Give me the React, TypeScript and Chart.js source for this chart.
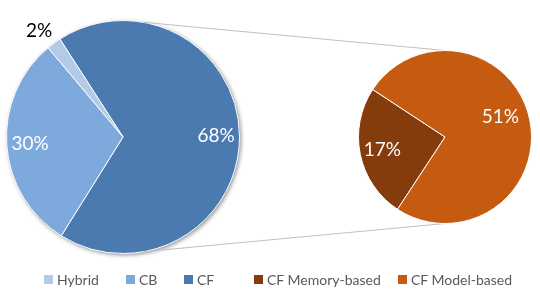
import React, { useEffect, useRef } from "react";
import { Chart, registerables } from "chart.js";
Chart.register(...registerables);

// ---- data ----
const mainLabels = ["Hybrid", "CB", "CF"];
const mainValues = [2, 30, 68];
const mainColors = ["#b4cbe8", "#7ea9dc", "#4a7ab0"];

const subLabels = ["CF Memory-based", "CF Model-based"];
const subValues = [17, 51];
const subColors = ["#843c0c", "#c55a11"];

// ---- styling / layout (not data) ----
const W = 540;
const H = 293;
const FONT = "Lato, 'Open Sans', sans-serif";
// label placement per slice, in main-legend order
const mainLabelStyle = [
  { frac: 1.16, off: -2, color: "#000000" },
  { frac: 0.8, off: 0, color: "#ffffff" },
  { frac: 0.8, off: 0, color: "#ffffff" },
];
const subLabelStyle = [
  { frac: 0.74, off: 0, color: "#ffffff" },
  { frac: 0.68, off: -8, color: "#ffffff" },
];
const legendLeft = [44, 126, 184, 254, 398];

type LStyle = { frac: number; off: number; color: string };

function labelPlugin(id: string, styles: LStyle[], values: number[]) {
  return {
    id,
    afterDatasetsDraw(chart: any) {
      const meta = chart.getDatasetMeta(0);
      const ctx = chart.ctx;
      ctx.save();
      ctx.font = `19px ${FONT}`;
      ctx.textAlign = "center";
      ctx.textBaseline = "middle";
      meta.data.forEach((arc: any, i: number) => {
        const p = arc.getProps(["x", "y", "startAngle", "endAngle", "outerRadius"], true);
        const st = styles[i];
        const mid = (p.startAngle + p.endAngle) / 2 + (st.off * Math.PI) / 180;
        const r = p.outerRadius * st.frac;
        ctx.fillStyle = st.color;
        ctx.fillText(values[i] + "%", p.x + r * Math.cos(mid), p.y + r * Math.sin(mid));
      });
      ctx.restore();
    },
  };
}

export default function App() {
  const leftRef = useRef<HTMLCanvasElement>(null);
  const rightRef = useRef<HTMLCanvasElement>(null);

  useEffect(() => {
    document.body.style.margin = "0";
    // Chart.js draws clockwise; reference runs counter-clockwise, so reverse
    const lLabels = [...mainLabels].reverse();
    const lValues = [...mainValues].reverse();
    const lColors = [...mainColors].reverse();
    const lStyles = [...mainLabelStyle].reverse();

    const shadowPlugin = {
      id: "pieShadow",
      beforeDatasetsDraw(chart: any) {
        const arc = chart.getDatasetMeta(0).data[0];
        if (!arc) return;
        const p = arc.getProps(["x", "y", "outerRadius"], true);
        const ctx = chart.ctx;
        ctx.save();
        ctx.shadowColor = "rgba(0,0,0,0.45)";
        ctx.shadowBlur = 4;
        ctx.shadowOffsetX = 1.5;
        ctx.shadowOffsetY = 1.5;
        ctx.fillStyle = "#4a7ab0";
        ctx.beginPath();
        ctx.arc(p.x, p.y, p.outerRadius, 0, Math.PI * 2);
        ctx.fill();
        ctx.restore();
      },
    };

    const left = new Chart(leftRef.current!, {
      type: "pie",
      data: {
        labels: lLabels,
        datasets: [
          {
            data: lValues,
            backgroundColor: lColors,
            borderColor: "#ffffff",
            borderWidth: 1,
          },
        ],
      },
      options: {
        responsive: false,
        animation: false,
        rotation: -32.8,
        layout: { padding: { left: 6, top: 20, right: 300, bottom: 39 } },
        plugins: { legend: { display: false }, tooltip: { enabled: false } },
      },
      plugins: [shadowPlugin, labelPlugin("mainLabels", lStyles, lValues)],
    });

    const connectorPlugin = {
      id: "connectors",
      beforeDatasetsDraw(chart: any) {
        const la = left.getDatasetMeta(0).data[0] as any;
        const ra = chart.getDatasetMeta(0).data[0];
        if (!la || !ra) return;
        const lp = la.getProps(["x", "y", "outerRadius"], true);
        const rp = ra.getProps(["x", "y", "outerRadius"], true);
        const ctx = chart.ctx;
        const a = (10 * Math.PI) / 180;
        ctx.save();
        ctx.strokeStyle = "#bfbfbf";
        ctx.lineWidth = 1;
        ctx.beginPath();
        ctx.moveTo(lp.x + lp.outerRadius * Math.sin(a), lp.y - lp.outerRadius * Math.cos(a));
        ctx.lineTo(rp.x, rp.y - rp.outerRadius);
        ctx.moveTo(lp.x + lp.outerRadius * Math.sin(a), lp.y + lp.outerRadius * Math.cos(a));
        ctx.lineTo(rp.x, rp.y + rp.outerRadius);
        ctx.stroke();
        ctx.restore();
      },
    };

    const right = new Chart(rightRef.current!, {
      type: "pie",
      data: {
        labels: subLabels,
        datasets: [
          {
            data: subValues,
            backgroundColor: subColors,
            borderColor: "#ffffff",
            borderWidth: 1,
          },
        ],
      },
      options: {
        responsive: false,
        animation: false,
        rotation: 213.3,
        layout: { padding: { left: 358, top: 50, right: 8, bottom: 69 } },
        plugins: { legend: { display: false }, tooltip: { enabled: false } },
      },
      plugins: [connectorPlugin, labelPlugin("subLabels", subLabelStyle, subValues)],
    });

    return () => {
      right.destroy();
      left.destroy();
    };
  }, []);

  const legendItems = [
    ...mainLabels.map((l, i) => ({ label: l, color: mainColors[i] })),
    ...subLabels.map((l, i) => ({ label: l, color: subColors[i] })),
  ];

  return (
    <div style={{ position: "relative", width: W, height: H, background: "#fff", overflow: "hidden" }}>
      <canvas ref={leftRef} width={W} height={H} style={{ position: "absolute", left: 0, top: 0, width: W, height: H }} />
      <canvas ref={rightRef} width={W} height={H} style={{ position: "absolute", left: 0, top: 0, width: W, height: H }} />
      {legendItems.map((it, i) => (
        <div
          key={it.label}
          style={{
            position: "absolute",
            left: legendLeft[i],
            top: 270,
            height: 18,
            display: "flex",
            alignItems: "center",
            gap: 4,
            font: `14px ${FONT}`,
            color: "#595959",
            whiteSpace: "nowrap",
          }}
        >
          <span style={{ display: "inline-block", width: 9, height: 9, background: it.color }} />
          <span>{it.label}</span>
        </div>
      ))}
    </div>
  );
}
